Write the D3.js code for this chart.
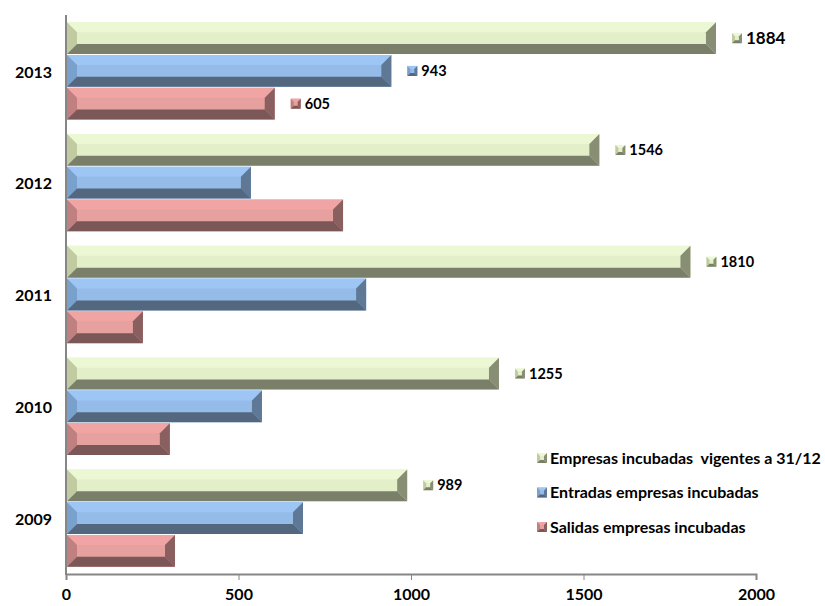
<!DOCTYPE html>
<html><head><meta charset="utf-8">
<script src="https://cdn.jsdelivr.net/npm/d3@7"></script>
<style>
html,body{margin:0;padding:0;background:#fff;}
svg{display:block;font-family:Lato,"Liberation Sans",sans-serif;font-weight:bold;}
</style></head>
<body>
<svg id="chart" width="825" height="606"></svg>
<script>
const years = ["2013","2012","2011","2010","2009"];
const seriesNames = ["Empresas incubadas  vigentes a 31/12","Entradas empresas incubadas","Salidas empresas incubadas"];
const vigentes = [1884, 1546, 1810, 1255, 989];
const entradas = [943, 536, 870, 568, 687];
const salidas  = [605, 803, 223, 301, 316];
const showVigentes = [true, true, true, true, true];
const showEntradas = [true, false, false, false, false];
const showSalidas  = [true, false, false, false, false];
const xTicks = [0, 500, 1000, 1500, 2000];

const palettes = [
  {top:"#ebf8d3", mid:"#e3efc9", bot:"#7a7f6a", left:"#c0cba0", right:"#888e74"},
  {top:"#9dc6f5", mid:"#95bbe9", bot:"#53677f", left:"#7aa0cc", right:"#5e7896"},
  {top:"#f0a4a4", mid:"#e6a09d", bot:"#7b5757", left:"#c08080", right:"#8a5f5f"}
];

const seriesVals = [vigentes, entradas, salidas];
const seriesShow = [showVigentes, showEntradas, showSalidas];

const svg = d3.select("#chart");
const x = d3.scaleLinear().domain([0, 2000]).range([66, 756]);
const y = d3.scaleBand().domain(years).range([15, 574]).paddingInner(0.13).paddingOuter(0.065);
const ySub = d3.scaleBand().domain([0,1,2]).range([0, y.bandwidth()]).paddingInner(0.03);

function bevelBar(g, x0, x1, y0, h, p, d) {
  const w = x1 - x0;
  const dx = Math.min(d, w / 2), dy = Math.min(d, h / 2);
  const pts = a => a.map(q => q.join(",")).join(" ");
  g.append("rect").attr("x", x0).attr("y", y0).attr("width", w).attr("height", h).attr("fill", p.mid);
  g.append("polygon").attr("points", pts([[x0,y0],[x1,y0],[x1-dx,y0+dy],[x0+dx,y0+dy]])).attr("fill", p.top);
  g.append("polygon").attr("points", pts([[x0,y0],[x0+dx,y0+dy],[x0+dx,y0+h-dy],[x0,y0+h]])).attr("fill", p.left);
  g.append("polygon").attr("points", pts([[x1,y0],[x1,y0+h],[x1-dx,y0+h-dy],[x1-dx,y0+dy]])).attr("fill", p.right);
  g.append("polygon").attr("points", pts([[x0,y0+h],[x0+dx,y0+h-dy],[x1-dx,y0+h-dy],[x1,y0+h]])).attr("fill", p.bot);
}

const gBars = svg.append("g");
years.forEach((yr, i) => {
  seriesVals.forEach((vals, s) => {
    const y0 = y(yr) + ySub(s);
    const h = ySub.bandwidth();
    const g = gBars.append("g");
    bevelBar(g, x(0) + 1, x(vals[i]), y0, h, palettes[s], 10);
    if (seriesShow[s][i]) {
      const lx = x(vals[i]) + 16, cy = y0 + h / 2;
      bevelBar(g, lx, lx + 10, cy - 5, 10, palettes[s], 3);
      g.append("text").attr("x", lx + 14).attr("y", cy).attr("dy", "0.35em")
        .attr("font-size", (i === 0 && s === 0) ? 17 : 14.5)
        .attr("fill", "#000").text(vals[i]);
    }
  });
});

svg.append("line").attr("x1", 66).attr("x2", 66).attr("y1", 15).attr("y2", 575)
  .attr("stroke", "#868686").attr("stroke-width", 2);
const xAxis = d3.axisBottom(x).tickValues(xTicks).tickSize(6).tickPadding(9).tickFormat(d3.format("d"));
const gx = svg.append("g").attr("transform", "translate(0,574)").call(xAxis);
gx.select(".domain").attr("stroke", "#868686").attr("stroke-width", 2);
gx.selectAll(".tick line").attr("stroke", "#868686");
gx.selectAll(".tick text").attr("font-size", 16).attr("font-family", "Lato").attr("font-weight", "bold").attr("fill", "#000");

svg.append("g").selectAll("text").data(years).join("text")
  .attr("x", 52).attr("y", d => y(d) + y.bandwidth() / 2 + 1)
  .attr("text-anchor", "end").attr("dy", "0.35em").attr("font-size", 16).text(d => d);

const leg = svg.append("g");
seriesNames.forEach((n, s) => {
  const cy = 458 + s * 34.5;
  const g = leg.append("g");
  bevelBar(g, 537, 547, cy - 5, 10, palettes[s], 3);
  g.append("text").attr("x", 550).attr("y", cy).attr("dy", "0.35em")
    .attr("font-size", 16).style("white-space", "pre").text(n);
});
</script>
</body></html>
